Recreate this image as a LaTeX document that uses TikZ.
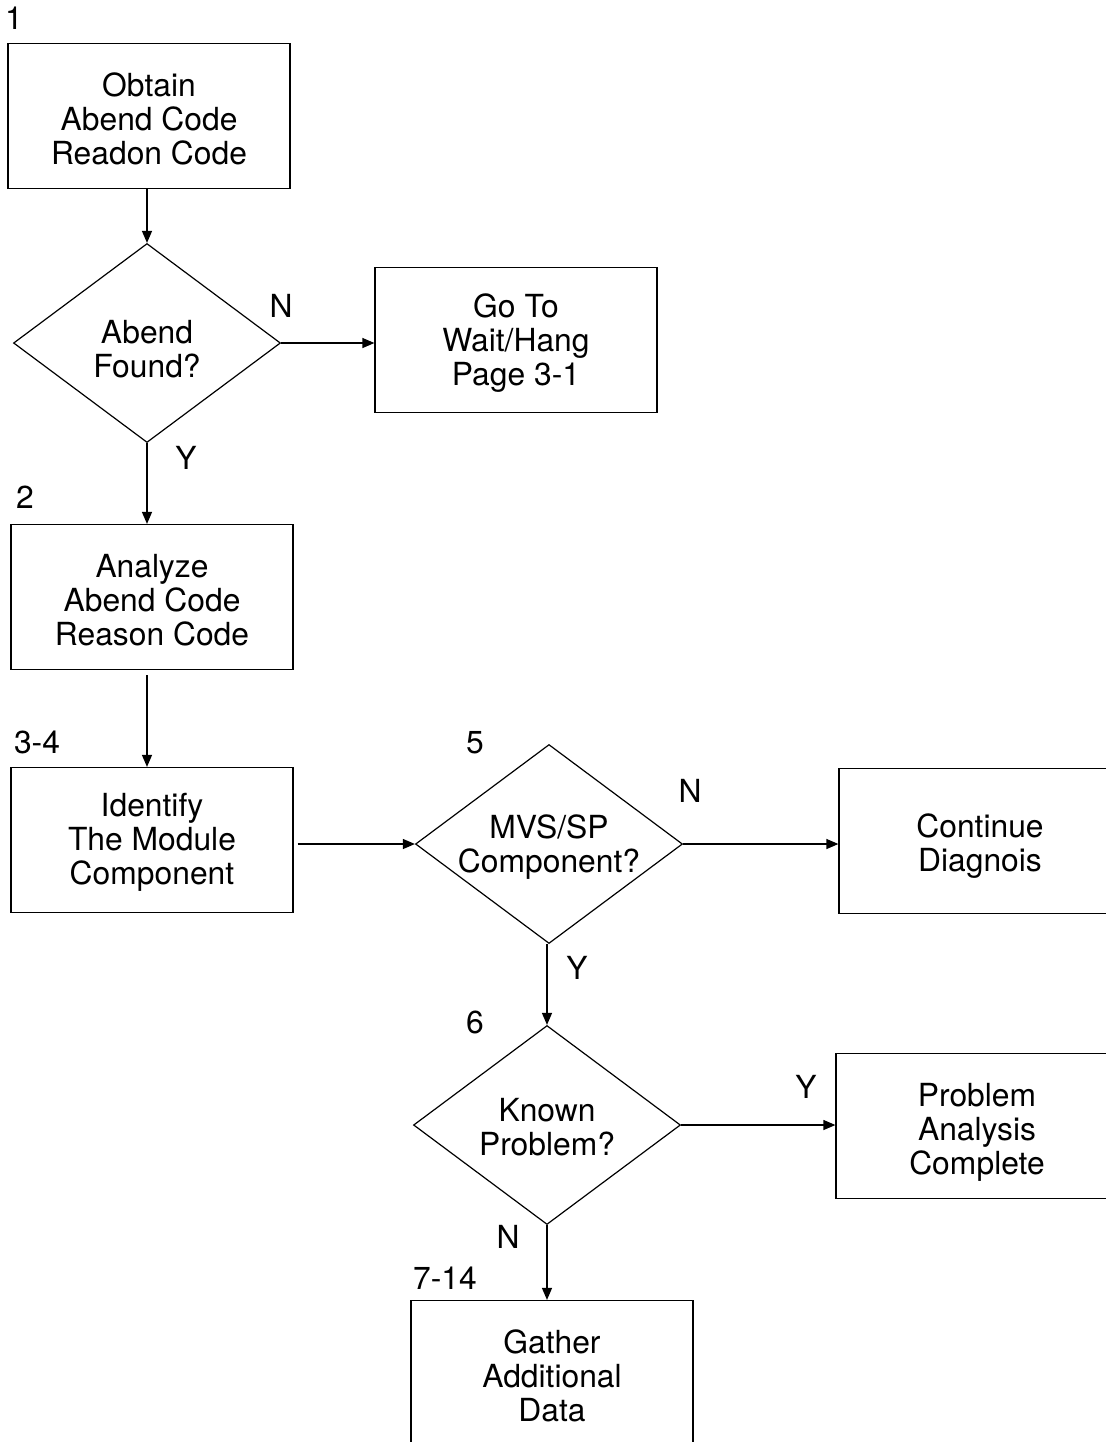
\documentclass[tikz,border=0pt]{standalone}
\usepackage{fontspec}
\setmainfont{TeX Gyre Heros}
\usetikzlibrary{shapes.geometric,arrows.meta}
\begin{document}
\begin{tikzpicture}[x=0.5pt,y=-0.5pt,line width=0.6pt,
        font=\fontsize{15.9}{17}\selectfont,
        box/.style={draw, rectangle, align=center, minimum width=141pt, minimum height=72.5pt, inner sep=0pt, text height=48pt, text depth=0pt},
        decision/.style={draw, diamond, align=center, aspect=1.34, minimum width=133.5pt, minimum height=99.5pt, inner sep=0pt, text height=30pt, text depth=0pt},
        tag/.style={inner sep=0pt},
        flow/.style={-{Triangle[length=6pt,width=5pt]}}]
        \clip (0,0) rectangle (1106,1442);
        \node (obtain) [box] at (149,116) {Obtain\\Abend Code\\Readon Code};
        \node (found) [decision, text height=34pt] at (147,343) {Abend\\Found?};
        \node (goto) [box, text height=45.5pt] at (516,340) {Go To\\Wait/Hang\\Page 3-1};
        \node (analyze) [box] at (152,597) {Analyze\\Abend Code\\Reason Code};
        \node (identify) [box, text height=44pt] at (152,840) {Identify\\The Module\\Component};
        \node (mvs) [decision, text height=28pt] at (549,844) {MVS/SP\\Component?};
        \node (continue) [box, text height=30pt] at (980,841) {Continue\\Diagnois};
        \node (known) [decision] at (547,1125) {Known\\Problem?};
        \node (complete) [box] at (977,1126) {Problem\\Analysis\\Complete};
        \node (gather) [box] at (552,1373) {Gather\\Additional\\Data};

        \node (step1) [tag] at (14,18) {1};
        \node (step2) [tag] at (25,497) {2};
        \node (step34) [tag] at (37,742) {3-4};
        \node (step5) [tag] at (475,743) {5};
        \node (step6) [tag] at (475,1022) {6};
        \node (step714) [tag] at (445,1278) {7-14};
        \node (foundno) [tag] at (281,306) {N};
        \node (foundyes) [tag] at (186,458) {Y};
        \node (mvsno) [tag] at (690,791) {N};
        \node (mvsyes) [tag] at (577,968) {Y};
        \node (knownyes) [tag] at (806,1087) {Y};
        \node (knownno) [tag] at (508,1237) {N};

        \draw[flow] (obtain.south -| found.north) -- (found.north);
        \draw[flow] (found.east) -- (found.east -| goto.west);
        \draw[flow] (found.south) -- (found.south |- analyze.north);
        \draw[flow, shorten <=2.5pt] (analyze.south -| found.south) -- (found.south |- identify.north);
        \draw[flow, shorten <=2pt] (identify.east |- mvs.west) -- (mvs.west);
        \draw[flow] (mvs.east) -- (mvs.east -| continue.west);
        \draw[flow] (mvs.south -| known.north) -- (known.north);
        \draw[flow] (known.east) -- (known.east -| complete.west);
        \draw[flow] (known.south) -- (known.south |- gather.north);
\end{tikzpicture}
\end{document}
